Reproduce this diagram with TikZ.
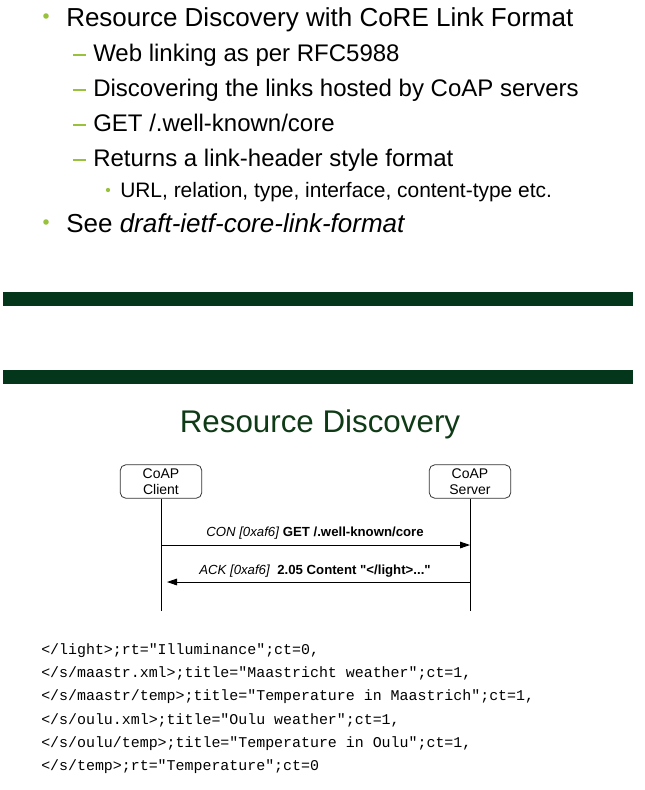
\documentclass[tikz,border=0pt]{standalone}
\usepackage{fontspec}
\setmainfont{Liberation Sans}
\setmonofont{Liberation Mono}
\usetikzlibrary{positioning, arrows.meta}
\definecolor{bulletgreen}{RGB}{153,194,60}
\definecolor{bargreen}{RGB}{3,54,26}
\definecolor{titlegreen}{RGB}{15,58,22}

\begin{document}
\begin{tikzpicture}[x=0.75pt,y=0.75pt,yscale=-1,xscale=1,
    lvlone/.style={anchor=base west, inner sep=0pt, font=\fontsize{19.5}{22}\selectfont},
    lvltwo/.style={anchor=base west, inner sep=0pt, font=\fontsize{18}{20}\selectfont},
    lvlthree/.style={anchor=base west, inner sep=0pt, font=\fontsize{15.7}{18}\selectfont},
    bulletdot/.style={circle, fill=bulletgreen, inner sep=0pt, minimum size=4.2pt},
    smalldot/.style={circle, fill=bulletgreen, inner sep=0pt, minimum size=3.2pt},
    dashbar/.style={bulletgreen, line width=1.5pt},
    greenbar/.style={fill=bargreen, draw=none},
    hostbox/.style={draw=black!80, rounded corners=4pt, line width=0.6pt, align=center,
        minimum width=61pt, minimum height=25pt, inner sep=0pt,
        font=\fontsize{10.5}{12}\selectfont},
    lifeline/.style={line width=0.6pt},
    msgarrow/.style={line width=0.6pt, -{Triangle[length=7.5pt, width=5pt]}},
    msglabel/.style={anchor=base, inner sep=0pt, font=\fontsize{9.9}{12}\selectfont},
    codeline/.style={anchor=base west, inner sep=0pt, font=\ttfamily\fontsize{11.2}{13}\selectfont}]
    \useasboundingbox (0,0) rectangle (644,790);

    % Text Node
    \node [bulletdot] (dotA) at (46,16) {};
    \node [lvlone] (itemA) at (66,26) {Resource Discovery with CoRE Link Format};
    % Text Node
    \draw [dashbar] (73,55) -- (86,55);
    \node [lvltwo] (subA) at (93,61) {Web linking as per RFC5988};
    % Text Node
    \draw [dashbar] (73,90) -- (86,90);
    \node [lvltwo] (subB) at (93,96) {Discovering the links hosted by CoAP servers};
    % Text Node
    \draw [dashbar] (73,125) -- (86,125);
    \node [lvltwo] (subC) at (93,131) {GET /.well-known/core};
    % Text Node
    \draw [dashbar] (73,160) -- (86,160);
    \node [lvltwo] (subD) at (93,166) {Returns a link-header style format};
    % Text Node
    \node [smalldot] (dotB) at (108,190) {};
    \node [lvlthree] (subsubA) at (120,197) {URL, relation, type, interface, content-type etc.};
    % Text Node
    \node [bulletdot] (dotC) at (46,222) {};
    \node [lvlone] (itemB) at (66,232) {See \textit{draft-ietf-core-link-format}};

    %Shape: Rectangle
    \draw [greenbar] (3,292) rectangle (633,306);
    %Shape: Rectangle
    \draw [greenbar] (3,370) rectangle (633,384);

    % Text Node
    \node [anchor=base, inner sep=0pt, text=titlegreen, font=\fontsize{23.5}{26}\selectfont] (title) at (320,432) {Resource Discovery};

    %Shape: Rounded Rectangle
    \node [hostbox] (client) at (161,481.5) {CoAP\\Client};
    %Shape: Rounded Rectangle
    \node [hostbox] (server) at (470,481.5) {CoAP\\Server};

    %Straight Lines
    \coordinate (clientEnd) at (161,611);
    \coordinate (serverEnd) at (470,611);
    \draw [lifeline] (client.south) -- (clientEnd);
    \draw [lifeline] (server.south) -- (serverEnd);

    %Straight Lines
    \coordinate (conStart) at (161,545);
    \coordinate (conEnd) at (470,545);
    \draw [msgarrow] (conStart) -- (conEnd);
    \node [msglabel] (conLabel) at (315,536) {\textit{CON [0xaf6]} \textbf{GET /.well-known/core}};
    %Straight Lines
    \coordinate (ackStart) at (470,582);
    \coordinate (ackEnd) at (167,582);
    \draw [msgarrow] (ackStart) -- (ackEnd);
    \node [msglabel] (ackLabel) at (315,574) {\textit{ACK [0xaf6]}\ \ \textbf{2.05 Content \textquotedbl</light>...\textquotedbl}};

    % Text Node
    \node [codeline] (codeA) at (41,654) {</light>;rt="Illuminance";ct=0,};
    \node [codeline] (codeB) at (41,677) {</s/maastr.xml>;title="Maastricht weather";ct=1,};
    \node [codeline] (codeC) at (41,700) {</s/maastr/temp>;title="Temperature in Maastrich";ct=1,};
    \node [codeline] (codeD) at (41,724) {</s/oulu.xml>;title="Oulu weather";ct=1,};
    \node [codeline] (codeE) at (41,747) {</s/oulu/temp>;title="Temperature in Oulu";ct=1,};
    \node [codeline] (codeF) at (41,770) {</s/temp>;rt="Temperature";ct=0};

\end{tikzpicture}
\end{document}
